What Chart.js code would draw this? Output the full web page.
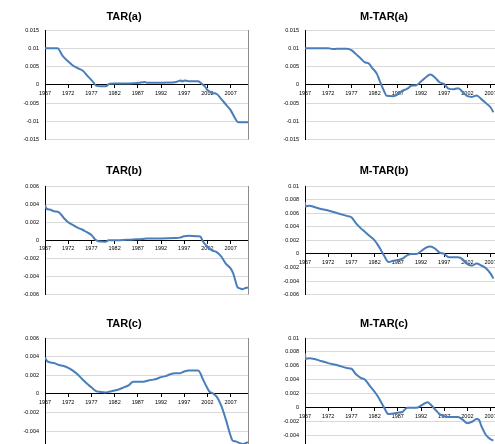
<!DOCTYPE html>
<html>
<head>
<meta charset="utf-8">
<script src="https://cdn.jsdelivr.net/npm/chart.js@4/dist/chart.umd.min.js"></script>
<style>
    html, body { margin: 0; padding: 0; background: #fff; }
    body { width: 495px; height: 444px; overflow: hidden; position: relative; }
    canvas { position: absolute; }
</style>
</head>
<body>
<canvas id="tarA" width="274" height="149" style="left:0;top:0"></canvas>
<canvas id="mtarA" width="274" height="149" style="left:260px;top:0"></canvas>
<canvas id="tarB" width="274" height="156" style="left:0;top:148px"></canvas>
<canvas id="mtarB" width="274" height="156" style="left:260px;top:148px"></canvas>
<canvas id="tarC" width="274" height="163" style="left:0;top:296px"></canvas>
<canvas id="mtarC" width="274" height="163" style="left:260px;top:296px"></canvas>
<script>
const xTickYears = [1967, 1972, 1977, 1982, 1987, 1992, 1997, 2002, 2007];
const yTicksA = [-0.015, -0.01, -0.005, 0, 0.005, 0.01, 0.015];
const yTicksTar = [-0.006, -0.004, -0.002, 0, 0.002, 0.004, 0.006];
const yTicksMtar = [-0.006, -0.004, -0.002, 0, 0.002, 0.004, 0.006, 0.008, 0.01];

const tarAYears = [1967, 1969.7, 1970.8, 1972, 1973, 1974, 1975.1, 1976.2, 1977.3, 1978, 1979, 1980.1, 1980.9, 1982, 1985, 1987, 1988.5, 1989, 1992, 1995, 1996.3, 1996.6, 1997, 1998, 2000, 2000.5, 2001.5, 2002, 2003, 2004, 2005, 2006, 2007, 2008, 2008.6, 2010.75];
const tarAValues = [0.01, 0.01, 0.0079, 0.0064, 0.0053, 0.0046, 0.0039, 0.0024, 0.0009, -0.0002, -0.0004, -0.0004, 0.0003, 0.0004, 0.0004, 0.0005, 0.0008, 0.0006, 0.0006, 0.0007, 0.0012, 0.0009, 0.0012, 0.001, 0.001, 0.0006, -0.0005, -0.0014, -0.0022, -0.0025, -0.0039, -0.0054, -0.0069, -0.0092, -0.0102, -0.0102];

const mtarAYears = [1967, 1972, 1973, 1975, 1976, 1977, 1978, 1979, 1980, 1980.7, 1981.5, 1982.5, 1983, 1984, 1984.6, 1986, 1987, 1988, 1989, 1990, 1991, 1992, 1993, 1994, 1995, 1996, 1997, 1998, 1999, 2000, 2001, 2002, 2003, 2004, 2005, 2006, 2007, 2007.6];
const mtarAValues = [0.01, 0.01, 0.0098, 0.0099, 0.0099, 0.0095, 0.0084, 0.0072, 0.0061, 0.0059, 0.0046, 0.003, 0.0014, -0.0016, -0.003, -0.0031, -0.0026, -0.0016, -0.0011, -0.0002, -0.0001, 0.0009, 0.002, 0.0028, 0.002, 0.0007, 0.0002, -0.0011, -0.0012, -0.0009, -0.002, -0.0031, -0.0033, -0.0029, -0.0039, -0.005, -0.0062, -0.0075];

const tarBYears = [1967, 1967.3, 1968, 1969, 1970, 1971, 1972, 1973, 1974, 1975, 1976, 1977, 1977.8, 1978.5, 1980, 1980.7, 1982, 1986, 1988, 1989, 1992, 1995, 1996, 1997, 1998, 2000, 2000.5, 2001, 2002, 2003, 2004, 2005, 2006, 2007, 2007.6, 2008, 2008.5, 2009, 2009.6, 2010, 2010.75];
const tarBValues = [0.0039, 0.0035, 0.0034, 0.0032, 0.0031, 0.0025, 0.002, 0.0017, 0.0014, 0.0012, 0.0009, 0.0006, 0.0001, -0.0001, -0.00015, 0, 0, 0.0001, 0.00015, 0.0002, 0.0002, 0.00025, 0.0003, 0.00045, 0.0005, 0.00045, 0.0004, -0.0001, -0.0007, -0.0011, -0.0013, -0.0018, -0.0026, -0.0031, -0.0037, -0.0044, -0.0052, -0.0053, -0.0054, -0.0053, -0.0052];

const mtarBYears = [1967, 1967.1, 1968, 1969, 1970, 1972, 1974, 1976, 1977, 1978, 1979, 1980, 1981, 1982, 1983, 1984, 1985, 1986, 1987, 1988, 1989, 1990, 1991, 1992, 1993, 1994, 1995, 1996, 1997, 1998, 2000, 2001, 2002, 2003, 2004, 2005, 2006, 2007, 2007.6];
const mtarBValues = [0.0076, 0.007, 0.0071, 0.0069, 0.0067, 0.0064, 0.006, 0.0056, 0.0054, 0.0045, 0.0038, 0.0032, 0.0026, 0.002, 0.001, -0.0002, -0.0012, -0.001, -0.0009, -0.0007, -0.0002, 0, 0, 0.0004, 0.0009, 0.0011, 0.0008, 0.0002, 0, -0.0005, -0.0005, -0.0008, -0.0015, -0.0017, -0.0014, -0.0017, -0.0021, -0.0029, -0.0036];

const tarCYears = [1967, 1967.5, 1968, 1969, 1970, 1971, 1972, 1973, 1974, 1975, 1976, 1977, 1978, 1979, 1980, 1981, 1982, 1983, 1984, 1985, 1986, 1987, 1988, 1989, 1990, 1991, 1992, 1993, 1994, 1995, 1996, 1997, 1998, 2000, 2000.5, 2001, 2002, 2002.5, 2003, 2004, 2005, 2006, 2007, 2007.4, 2008, 2009, 2009.6, 2010.75];
const tarCValues = [0.0039, 0.0035, 0.0034, 0.0033, 0.0031, 0.003, 0.0028, 0.0025, 0.0021, 0.0016, 0.0011, 0.0007, 0.0003, 0.0002, 0.00015, 0.00025, 0.00035, 0.0005, 0.0007, 0.0009, 0.0013, 0.0013, 0.0013, 0.0014, 0.0015, 0.0016, 0.0018, 0.0019, 0.0021, 0.0022, 0.0022, 0.0024, 0.0025, 0.0025, 0.0022, 0.0016, 0.0006, 0.0002, 0.0001, -0.0003, -0.0013, -0.0028, -0.0045, -0.005, -0.0051, -0.0053, -0.0054, -0.0052];

const mtarCYears = [1967, 1967.1, 1968, 1969, 1970, 1972, 1974, 1976, 1977, 1978, 1979, 1980, 1981, 1982, 1983, 1984, 1985, 1986, 1987, 1988, 1989, 1990, 1991, 1992, 1993, 1993.5, 1994, 1995, 1996, 1997, 1998, 2000, 2001, 2002, 2003, 2004, 2004.5, 2005, 2006, 2007, 2007.6];
const mtarCValues = [0.0078, 0.007, 0.0071, 0.007, 0.0068, 0.0064, 0.0061, 0.0057, 0.0056, 0.0048, 0.0043, 0.004, 0.0031, 0.0023, 0.0013, 0.0001, -0.0009, -0.0008, -0.0007, -0.0006, 0, 0, 0, 0.0003, 0.0007, 0.0008, 0.0005, -0.0002, -0.0009, -0.0012, -0.0013, -0.0013, -0.0017, -0.0022, -0.002, -0.0016, -0.0017, -0.0026, -0.0039, -0.0045, -0.0047];

Chart.defaults.font.family = "Arial, 'Liberation Sans', sans-serif";
Chart.defaults.color = "#000";

// thin grey frame on the right side of the plot area
const rightEdge = {
    id: "rightEdge",
    afterDraw(chart) {
        const { ctx, chartArea } = chart;
        ctx.save();
        ctx.strokeStyle = "#8c8c8c";
        ctx.lineWidth = 1;
        ctx.beginPath();
        ctx.moveTo(Math.round(chartArea.right) + 0.5, chartArea.top);
        ctx.lineTo(Math.round(chartArea.right) + 0.5, chartArea.bottom);
        ctx.stroke();
        ctx.restore();
    }
};

function makeChart(id, title, years, values, yTicks, padTop, padBottom) {
    const points = years.map((y, i) => ({ x: y, y: values[i] }));
    const ctx = document.getElementById(id).getContext("2d");
    return new Chart(ctx, {
        type: "line",
        data: {
            datasets: [{
                data: points,
                borderColor: "#4a7ebb",
                borderWidth: 2,
                pointRadius: 0,
                fill: false,
                cubicInterpolationMode: "monotone"
            }]
        },
        plugins: [rightEdge],
        options: {
            responsive: false,
            animation: false,
            layout: { padding: { left: 0, right: 26, top: 0, bottom: 0 } },
            plugins: {
                legend: { display: false },
                tooltip: { enabled: false },
                title: {
                    display: true,
                    text: title,
                    color: "#000",
                    font: { size: 11, weight: "bold" },
                    padding: { top: padTop, bottom: padBottom }
                }
            },
            scales: {
                x: {
                    type: "linear",
                    position: { y: 0 },
                    min: 1967,
                    max: 2010.75,
                    afterBuildTicks: s => { s.ticks = xTickYears.map(v => ({ value: v })); },
                    grid: { drawOnChartArea: false, drawTicks: true, tickLength: 3, color: "#000" },
                    border: { color: "#000", width: 1 },
                    ticks: {
                        autoSkip: false,
                        maxRotation: 0,
                        padding: 2,
                        font: { size: 5.5 },
                        callback: v => String(v)
                    }
                },
                y: {
                    min: yTicks[0],
                    max: yTicks[yTicks.length - 1],
                    afterBuildTicks: s => { s.ticks = yTicks.map(v => ({ value: v })); },
                    afterFit: s => { s.width = 45; },
                    grid: { color: "#d9d9d9", drawTicks: false },
                    border: { color: "#000", width: 1 },
                    ticks: {
                        padding: 6,
                        font: { size: 5.5 },
                        callback: v => String(v)
                    }
                }
            }
        }
    });
}

makeChart("tarA", "TAR(a)", tarAYears, tarAValues, yTicksA, 10.4, 6.4);
makeChart("mtarA", "M-TAR(a)", mtarAYears, mtarAValues, yTicksA, 10.4, 6.4);
makeChart("tarB", "TAR(b)", tarBYears, tarBValues, yTicksTar, 16.4, 8.4);
makeChart("mtarB", "M-TAR(b)", mtarBYears, mtarBValues, yTicksMtar, 16.4, 8.4);
makeChart("tarC", "TAR(c)", tarCYears, tarCValues, yTicksTar, 21.4, 7.4);
makeChart("mtarC", "M-TAR(c)", mtarCYears, mtarCValues, yTicksMtar, 21.4, 7.4);
</script>
</body>
</html>
